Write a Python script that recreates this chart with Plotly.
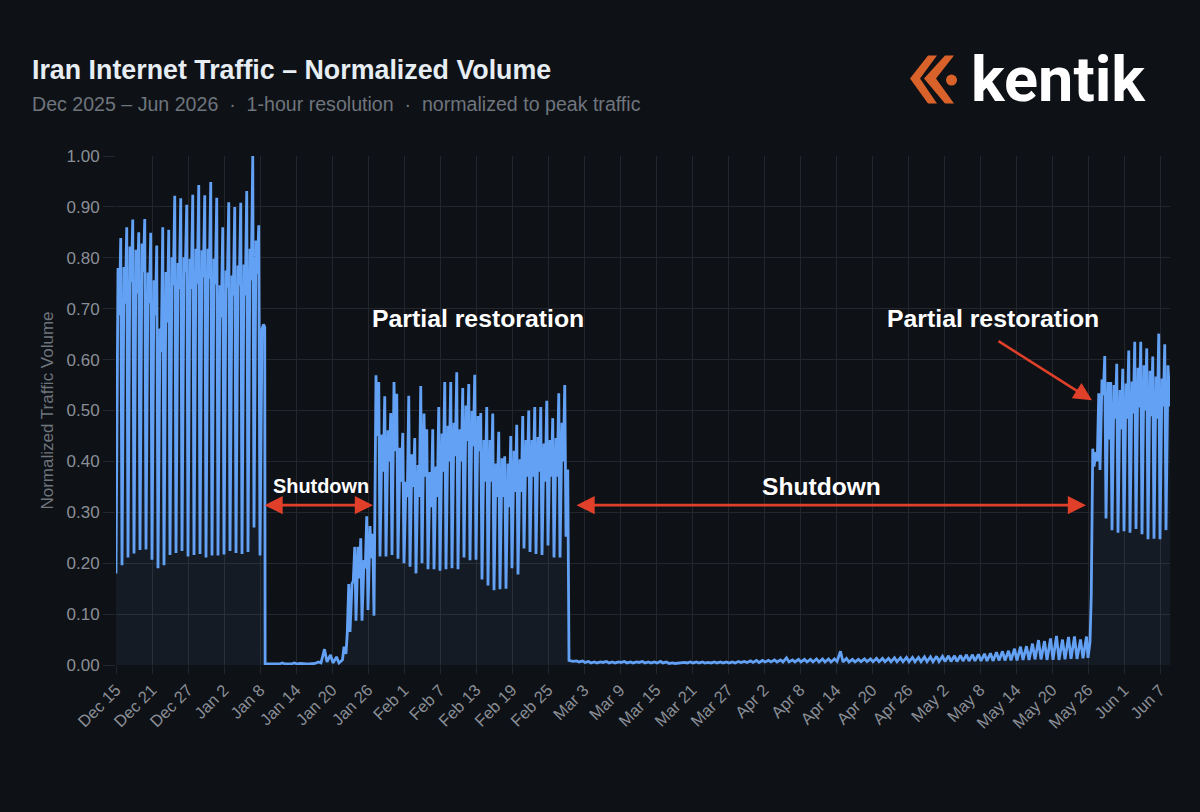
import pandas as pd
import plotly.graph_objects as go

# --- data (normalized volume) ---
# each day of the busy periods: night low, morning level, midday dip, evening peak
DAY_HOURS = [0, 8, 13, 19]
# shutdown days: low, high
LOW_HOURS = [4, 18]

# Dec 15 - Jan 7
first_low = [.18, .196, .211, .219, .226, .227, .207, .19, .196, .216, .22, .224,
             .213, .216, .218, .211, .215, .215, .217, .224, .22, .218, .222, .27]
first_morning = [.78, .782, .822, .816, .828, .771, .756, .661, .772, .801, .79, .801,
                 .798, .818, .815, .818, .798, .746, .775, .765, .785, .787, .818, .834]
first_dip = [.687, .71, .752, .73, .772, .711, .687, .615, .673, .746, .739, .772,
             .739, .749, .762, .759, .748, .683, .742, .726, .746, .726, .756, .769]
first_peak = [.839, .86, .875, .85, .876, .849, .824, .86, .855, .922, .917, .904,
              .924, .943, .923, .949, .918, .86, .909, .9, .908, .931, 1.0, .864]

# Jan 8, the drop
drop1_times = ["2026-01-08 00:00", "2026-01-08 08:00", "2026-01-08 14:00",
               "2026-01-08 19:00", "2026-01-08 20:30"]
drop1_values = [.215, .66, .669, .664, .002]

# Jan 9 - Jan 21
off1_low = [.002, .002, .002, .002, .002, .002, .002, .002, .003, .004, .006, .004, .004]
off1_high = [.002, .003, .004, .002, .004, .003, .002, .002, .006, .031, .02, .016, .01]

# Jan 22 - Jan 26
ramp_low = [.036, .065, .087, .087, .108]
ramp_morning = [.022, .16, .232, .206, .273]
ramp_dip = [.062, .165, .17, .19, .21]
ramp_peak = [.159, .232, .249, .292, .258]

# Jan 27 - Feb 27
second_low = [.097, .213, .213, .216, .209, .2, .193, .18, .2, .188, .188, .185,
              .188, .19, .188, .211, .206, .207, .168, .156, .147, .149, .15, .19,
              .178, .229, .222, .218, .216, .235, .211, .211]
second_morning = [.569, .453, .461, .556, .427, .36, .414, .393, .494, .379, .39, .455,
                  .47, .476, .463, .51, .499, .489, .442, .442, .396, .406, .396, .421,
                  .404, .442, .442, .448, .435, .442, .446, .476]
second_dip = [.45, .38, .4, .42, .36, .33, .35, .33, .37, .31, .33, .38,
              .4, .41, .4, .44, .43, .42, .36, .36, .33, .33, .31, .34,
              .34, .37, .37, .38, .36, .37, .37, .4]
second_peak = [.556, .528, .495, .533, .456, .529, .446, .548, .463, .463, .507, .556,
               .556, .575, .544, .552, .57, .495, .507, .494, .458, .41, .45, .472,
               .489, .5, .507, .507, .519, .485, .534, .55]

# Feb 28, the drop
drop2_times = ["2026-02-28 00:00", "2026-02-28 07:00", "2026-02-28 09:00",
               "2026-02-28 10:00", "2026-02-28 12:00"]
drop2_values = [.252, .384, .25, .045, .009]

# Mar 1 - May 25
off2_low = [.007, .006, .005, .004, .004, .005, .004, .004, .005, .004, .004, .005,
            .004, .004, .004, .004, .003, .003,
            .004, .004, .004, .004, .004, .004, .004, .004, .004, .004, .005, .005,
            .005, .005, .006, .006, .006, .006,
            .006, .006, .006, .006, .006, .006, .006, .006, .007,
            .006, .006, .006, .0065, .0065, .0065, .0065, .0065, .0065, .0065, .0065,
            .0065, .0065, .0065, .0065, .0065, .007, .007,
            .007, .007, .008, .008, .008, .008, .008, .008, .009, .009, .009, .009,
            .01, .01, .011, .011, .01, .01, .01, .011, .012, .012, .013]
off2_high = [.008, .008, .007, .006, .006, .007, .006, .006, .007, .006, .006, .007,
             .006, .006, .007, .006, .004, .004,
             .005, .006, .006, .006, .005, .006, .006, .006, .006, .007, .007, .008,
             .009, .009, .009, .01, .01, .014,
             .01, .011, .011, .011, .012, .012, .012, .012, .027,
             .013, .011, .011, .012, .012, .013, .013, .013, .014, .014, .015, .015,
             .015, .016, .016, .017, .017, .018,
             .018, .019, .02, .02, .021, .022, .023, .025, .027, .028, .032, .036,
             .037, .042, .049, .047, .052, .057, .05, .055, .056, .05, .056]

# May 26 - Jun 7
last_low = [.014, .39, .383, .288, .265, .26, .263, .26, .267, .257, .247, .248, .247]
last_morning = [.045, .418, .561, .556, .55, .54, .553, .557, .584, .589, .578, .567, .563]
last_dip = [.137, .4, .53, .443, .484, .463, .484, .494, .506, .5, .489, .484, .508]
last_peak = [.425, .534, .607, .556, .592, .582, .618, .635, .635, .622, .606, .651, .63]

end_times = ["2026-06-08 00:00", "2026-06-08 08:00", "2026-06-08 16:00"]
end_values = [.265, .589, .508]

tick_labels = ["Dec 15", "Dec 21", "Dec 27", "Jan 2", "Jan 8", "Jan 14", "Jan 20", "Jan 26",
               "Feb 1", "Feb 7", "Feb 13", "Feb 19", "Feb 25", "Mar 3", "Mar 9", "Mar 15",
               "Mar 21", "Mar 27", "Apr 2", "Apr 8", "Apr 14", "Apr 20", "Apr 26", "May 2",
               "May 8", "May 14", "May 20", "May 26", "Jun 1", "Jun 7"]
y_ticks = [0, .1, .2, .3, .4, .5, .6, .7, .8, .9, 1]

BG = "#0e1116"
GRID = "#23272d"
TICK_TEXT = "#8a8f97"
MUTED = "#6f757d"
LINE = "#63a1f5"
RED = "#e0402a"
ORANGE = "#d9622b"
FONT = "Liberation Sans"

W, H = 1200, 812
LEFT, RIGHT, TOP, BOTTOM = 116, 1170, 155.5, 665


def days(start, hours, *columns):
    times, values = [], []
    for i, day_values in enumerate(zip(*columns)):
        for h, v in zip(hours, day_values):
            times.append(pd.Timestamp(start) + pd.Timedelta(days=i, hours=h))
            values.append(v)
    return times, values


def px(x):
    return (x - LEFT) / (RIGHT - LEFT)


def py(y):
    return (BOTTOM - y) / (BOTTOM - TOP)


segments = [
    days("2025-12-15", DAY_HOURS, first_low, first_morning, first_dip, first_peak),
    (pd.to_datetime(drop1_times).tolist(), drop1_values),
    days("2026-01-09", LOW_HOURS, off1_low, off1_high),
    days("2026-01-22", DAY_HOURS, ramp_low, ramp_morning, ramp_dip, ramp_peak),
    days("2026-01-27", DAY_HOURS, second_low, second_morning, second_dip, second_peak),
    (pd.to_datetime(drop2_times).tolist(), drop2_values),
    days("2026-03-01", LOW_HOURS, off2_low, off2_high),
    days("2026-05-26", DAY_HOURS, last_low, last_morning, last_dip, last_peak),
    (pd.to_datetime(end_times).tolist(), end_values),
]
times, volume = [], []
for t, v in segments:
    times += t
    volume += v

fig = go.Figure(go.Scatter(x=times, y=volume, mode="lines",
                           line=dict(color=LINE, width=2.8),
                           fill="tozeroy", fillcolor="rgba(120,175,225,0.07)"))

fig.update_layout(
    width=W, height=H,
    margin=dict(l=LEFT, r=W - RIGHT, t=TOP, b=H - BOTTOM, autoexpand=False),
    paper_bgcolor=BG, plot_bgcolor=BG,
    showlegend=False,
    font=dict(family=FONT, color=TICK_TEXT),
    title=dict(text="<b>Iran Internet Traffic – Normalized Volume</b>",
               x=32 / W, xref="container", xanchor="left",
               y=1 - 70 / H, yref="container", yanchor="middle",
               font=dict(size=26.8, color="#e6edf3", family=FONT)),
)

fig.update_xaxes(
    range=["2025-12-15", "2026-06-08 16:00"],
    tickmode="array",
    tickvals=pd.date_range("2025-12-15", periods=len(tick_labels), freq="6D"),
    ticktext=tick_labels,
    tickangle=-45, tickfont=dict(size=16.5, color=TICK_TEXT),
    showgrid=True, gridcolor=GRID, gridwidth=1,
    ticks="outside", ticklen=8, tickcolor=GRID,
    zeroline=False, showline=False,
)
fig.update_yaxes(
    range=[0, 1], tickmode="array", tickvals=y_ticks, tickformat=".2f",
    tickfont=dict(size=17, color=TICK_TEXT),
    showgrid=True, gridcolor=GRID, gridwidth=1,
    ticks="outside", ticklen=12, tickcolor=GRID,
    zeroline=False, showline=False,
    title=dict(text="Normalized Traffic Volume", standoff=8,
               font=dict(size=17, color=MUTED)),
)


def label(text, x, y, size, color="#ffffff", family=FONT, weight=None):
    fig.add_annotation(text=text, x=px(x), y=py(y), xref="paper", yref="paper",
                       showarrow=False, xanchor="left", yanchor="middle",
                       font=dict(size=size, color=color, family=family, weight=weight))


def arrow(start, y0, end, y1, both=True):
    fig.add_annotation(text="", x=end, y=y1, ax=start, ay=y0, xref="x", yref="y",
                       axref="x", ayref="y", showarrow=True,
                       arrowhead=2, arrowsize=1.4, arrowwidth=2.6, arrowcolor=RED,
                       arrowside="end+start" if both else "end",
                       startarrowhead=2, startarrowsize=1.4)


label("Dec 2025 – Jun 2026  ·  1-hour resolution  ·  normalized to peak traffic",
      30, 103, 19.6, color=MUTED)
label("<b>Partial restoration</b>", 370, 318, 24.8)
label("<b>Partial restoration</b>", 885, 318, 24.8)
label("<b>Shutdown</b>", 271, 486, 19.9)
label("<b>Shutdown</b>", 760, 486, 24.6)

arrow("2026-01-08 12:00", .314, "2026-01-26 20:00", .314)
arrow("2026-03-01 12:00", .314, "2026-05-25 16:00", .314)
arrow("2026-05-10 20:00", .638, "2026-05-26 16:00", .52, both=False)

# logo
label("kentik", 969, 79, 63, color="#ffffff", family="Roboto", weight=700)


def poly(points):
    path = "M " + " L ".join(f"{px(a):.5f},{py(b):.5f}" for a, b in points) + " Z"
    fig.add_shape(type="path", path=path, xref="paper", yref="paper",
                  fillcolor=ORANGE, line=dict(width=0))


poly([(910, 78), (928, 55), (937, 55), (920, 78), (937, 103), (928, 103)])
poly([(924, 78), (945, 55), (954, 55), (936, 78), (954, 103), (945, 103)])
fig.add_shape(type="circle", xref="paper", yref="paper",
              x0=px(946), x1=px(957), y0=py(85), y1=py(74),
              fillcolor=ORANGE, line=dict(width=0))

fig.write_html("out.html", config={"displayModeBar": False},
               post_script="document.body.style.margin='0';"
                           f"document.body.style.background='{BG}';")
